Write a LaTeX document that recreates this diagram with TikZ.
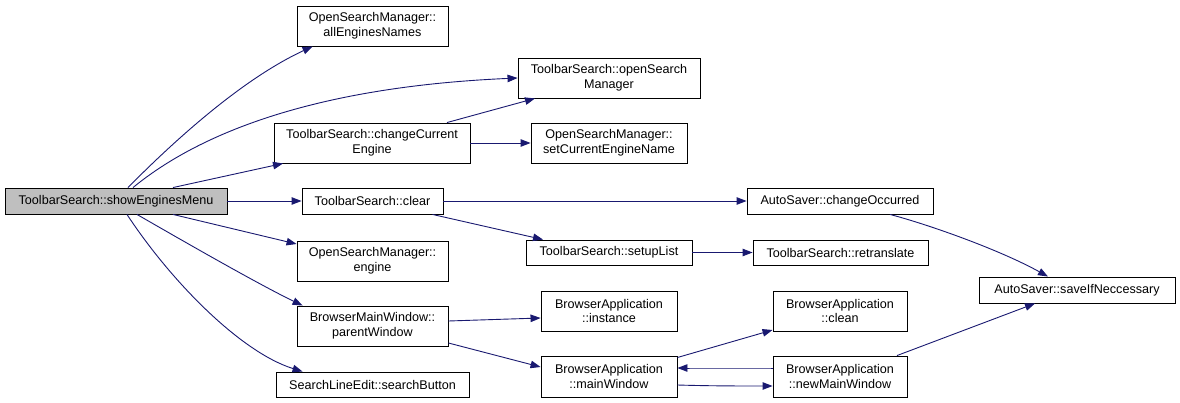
\documentclass[tikz,border=0pt]{standalone}
\usepackage{fontspec}
\setmainfont{Liberation Sans}
\usetikzlibrary{arrows.meta}
\begin{document}
\begin{tikzpicture}[x=1pt,y=-1pt,
  box/.style={draw=black,line width=0.9pt,fill=white,inner sep=0pt,align=center,
    font=\fontsize{12.6}{14.8}\selectfont},
  root/.style={box,fill=black!25},
  edge/.style={draw={rgb,255:red,25;green,25;blue,112},line width=0.9pt,
    -{Triangle[length=10pt,width=7.5pt]}},
]
\useasboundingbox (0,0) rectangle (1180,403);
\node[root,minimum width=222pt,minimum height=26pt] (sem) at (116,201) {ToolbarSearch::showEnginesMenu};
\node[box,minimum width=151pt,minimum height=40pt] (aen) at (372.5,26) {OpenSearchManager::\\allEnginesNames};
\node[box,minimum width=182pt,minimum height=40pt] (osm) at (609,78) {ToolbarSearch::openSearch\\Manager};
\node[box,minimum width=196pt,minimum height=40pt] (cce) at (372,143) {ToolbarSearch::changeCurrent\\Engine};
\node[box,minimum width=156pt,minimum height=40pt] (scen) at (609,143) {OpenSearchManager::\\setCurrentEngineName};
\node[box,minimum width=141pt,minimum height=26pt] (clr) at (372.5,201) {ToolbarSearch::clear};
\node[box,minimum width=186pt,minimum height=26pt] (co) at (840,201) {AutoSaver::changeOccurred};
\node[box,minimum width=151pt,minimum height=40pt] (eng) at (372.5,261) {OpenSearchManager::\\engine};
\node[box,minimum width=166pt,minimum height=25pt] (sl) at (609,252.5) {ToolbarSearch::setupList};
\node[box,minimum width=175pt,minimum height=25pt] (rt) at (840.5,252.5) {ToolbarSearch::retranslate};
\node[box,minimum width=196pt,minimum height=26pt] (sin) at (1077,290) {AutoSaver::saveIfNeccessary};
\node[box,minimum width=151pt,minimum height=40pt] (pw) at (372.5,326) {BrowserMainWindow::\\parentWindow};
\node[box,minimum width=136pt,minimum height=40pt] (inst) at (609,311) {BrowserApplication\\::instance};
\node[box,minimum width=134pt,minimum height=40pt] (clean) at (840,311) {BrowserApplication\\::clean};
\node[box,minimum width=136pt,minimum height=41pt] (mw) at (609,376.5) {BrowserApplication\\::mainWindow};
\node[box,minimum width=134pt,minimum height=41pt] (nmw) at (840,376.5) {BrowserApplication\\::newMainWindow};
\node[box,minimum width=193pt,minimum height=25pt] (sb) at (372.5,384.5) {SearchLineEdit::searchButton};

\path[edge] ([xshift=12pt]sem.north) .. controls (170,145) and (240,80) .. ([xshift=16pt]aen.south west);
\path[edge] ([xshift=17pt]sem.north) .. controls (185,145) and (290,88) .. (osm.west);
\path[edge] ([xshift=57pt]sem.north) -- ([xshift=-89pt]cce.south);
\path[edge] (sem.east) -- (clr.west);
\path[edge] ([xshift=57pt]sem.south) -- ([yshift=17pt]eng.west);
\path[edge] ([xshift=21pt]sem.south) .. controls (190,245) and (260,285) .. ([xshift=6pt]pw.north west);
\path[edge] ([xshift=11pt]sem.south) .. controls (170,280) and (240,352) .. ([xshift=27pt]sb.north west);
\path[edge] ([xshift=75pt]cce.north) -- ([xshift=-74pt]osm.south);
\path[edge] (cce.east) -- (scen.west);
\path[edge] (clr.east) -- (co.west);
\path[edge] ([xshift=60pt]clr.south) -- ([xshift=-66pt]sl.north);
\path[edge] (sl.east) -- (rt.west);
\path[edge] ([xshift=50pt]co.south) .. controls (930,225) and (1000,250) .. ([xshift=-29pt]sin.north);
\path[edge] ([yshift=5pt]pw.east) -- ([yshift=-7pt]inst.west);
\path[edge] ([yshift=-17pt]pw.east) -- ([yshift=9.5pt]mw.west);
\path[edge] ([yshift=19pt]mw.east) -- ([yshift=-19pt]clean.west);
\path[edge] ([yshift=8.5pt]nmw.west) .. controls (740,368) and (710,368) .. ([yshift=8.5pt]mw.east);
\path[edge] ([yshift=-8.5pt]mw.east) .. controls (710,386) and (740,386) .. ([yshift=-9.5pt]nmw.west);
\path[edge] ([xshift=57pt]nmw.north) -- ([xshift=-42pt]sin.south);
\end{tikzpicture}
\end{document}
